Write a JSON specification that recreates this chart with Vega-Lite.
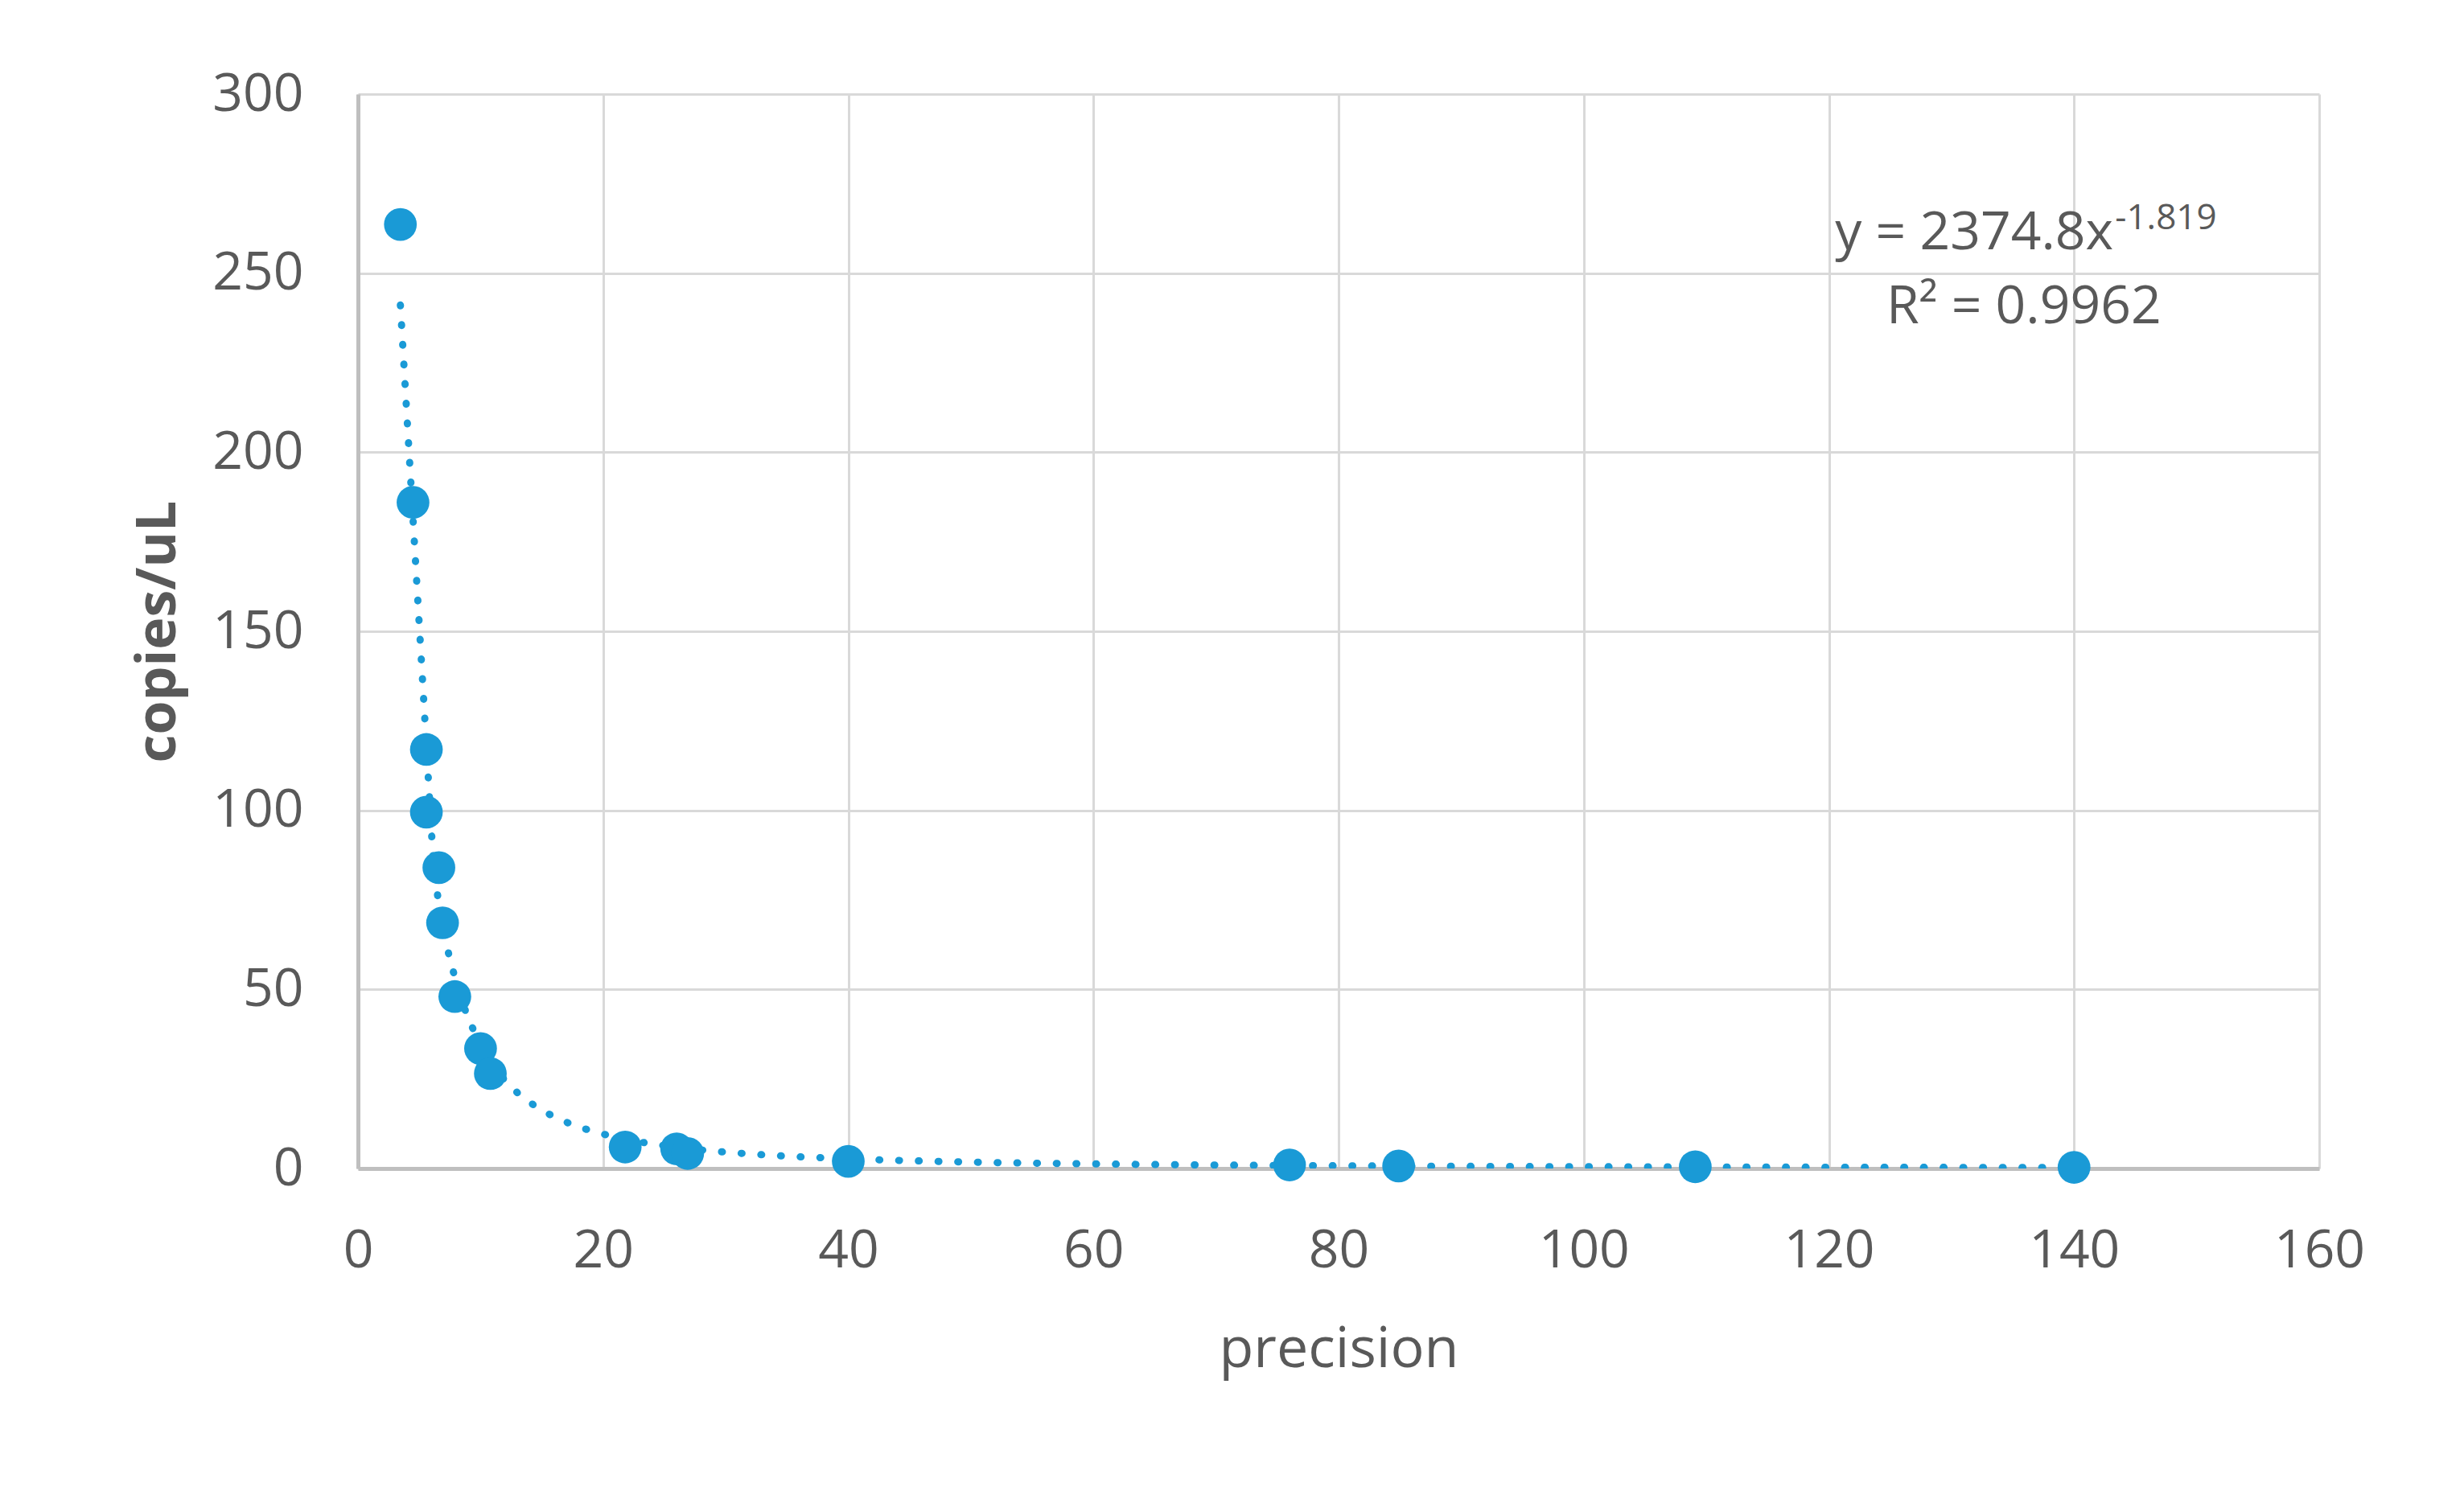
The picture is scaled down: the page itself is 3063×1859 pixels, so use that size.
{
  "$schema": "https://vega.github.io/schema/vega-lite/v6.json",
  "width": 2438,
  "height": 1336,
  "autosize": {"type": "none"},
  "padding": {"left": 445, "top": 117, "right": 180, "bottom": 406},
  "background": "white",
  "config": {"view": {"stroke": null}, "font": "Open Sans"},
  "datasets": {
    "points": [
      {"precision": 3.46, "copies": 263.6},
      {"precision": 4.49, "copies": 186.0},
      {"precision": 5.58, "copies": 117.0},
      {"precision": 5.58, "copies": 99.5},
      {"precision": 6.6, "copies": 84.0},
      {"precision": 6.9, "copies": 68.6},
      {"precision": 7.9, "copies": 48.0},
      {"precision": 10.0, "copies": 33.5},
      {"precision": 10.8, "copies": 26.5},
      {"precision": 21.8, "copies": 6.0},
      {"precision": 26.0, "copies": 5.5},
      {"precision": 26.9, "copies": 4.2},
      {"precision": 40.0, "copies": 2.0},
      {"precision": 76.0, "copies": 1.0},
      {"precision": 84.9, "copies": 0.7},
      {"precision": 109.1, "copies": 0.5},
      {"precision": 140.0, "copies": 0.33}
    ],
    "labels": [
      {"text": "y = 2374.8x", "px": 143.2, "py": 256.7, "part": "eq"},
      {"text": "-1.819", "px": 143.35, "py": 262.3, "part": "sup"},
      {"text": "R² = 0.9962", "px": 135.9, "py": 236.0, "part": "r2"}
    ]
  },
  "layer": [
    {
      "data": {"name": "points"},
      "transform": [{"regression": "copies", "on": "precision", "method": "pow"}],
      "mark": {"type": "line", "color": "#1a9ad6", "strokeWidth": 9, "strokeDash": [1, 23.5], "strokeCap": "round", "clip": true},
      "encoding": {
        "x": {
          "field": "precision",
          "type": "quantitative",
          "scale": {"domain": [0, 160], "nice": false, "zero": true},
          "axis": {
            "values": [0, 20, 40, 60, 80, 100, 120, 140, 160],
            "title": "precision",
            "titleFontSize": 70,
            "titleFontWeight": "normal",
            "titleColor": "#595959",
            "titlePadding": 56,
            "labelFontSize": 66,
            "labelColor": "#595959",
            "labelPadding": 70,
            "ticks": false,
            "tickSize": 0,
            "grid": true,
            "gridColor": "#d9d9d9",
            "gridWidth": 3,
            "domainColor": "#bfbfbf",
            "domainWidth": 5,
            "labelFlush": false
          }
        },
        "y": {
          "field": "copies",
          "type": "quantitative",
          "scale": {"domain": [0, 300], "nice": false},
          "axis": {
            "values": [0, 50, 100, 150, 200, 250, 300],
            "title": "copies/uL",
            "titleFontSize": 68,
            "titleFontWeight": "bold",
            "titleColor": "#595959",
            "titlePadding": 32,
            "labelFontSize": 66,
            "labelColor": "#595959",
            "labelPadding": 68,
            "ticks": false,
            "tickSize": 0,
            "grid": true,
            "gridColor": "#d9d9d9",
            "gridWidth": 3,
            "domainColor": "#bfbfbf",
            "domainWidth": 5,
            "labelFlush": false
          }
        }
      }
    },
    {
      "data": {"name": "points"},
      "mark": {"type": "circle", "size": 1660, "color": "#1a9ad6", "opacity": 1},
      "encoding": {
        "x": {"field": "precision", "type": "quantitative"},
        "y": {"field": "copies", "type": "quantitative"}
      }
    },
    {
      "data": {"name": "labels"},
      "transform": [{"filter": "datum.part === 'eq'"}],
      "mark": {"type": "text", "align": "right", "baseline": "alphabetic", "fontSize": 66, "color": "#595959"},
      "encoding": {
        "x": {"field": "px", "type": "quantitative"},
        "y": {"field": "py", "type": "quantitative"},
        "text": {"field": "text", "type": "nominal"}
      }
    },
    {
      "data": {"name": "labels"},
      "transform": [{"filter": "datum.part === 'sup'"}],
      "mark": {"type": "text", "align": "left", "baseline": "alphabetic", "fontSize": 44, "color": "#595959"},
      "encoding": {
        "x": {"field": "px", "type": "quantitative"},
        "y": {"field": "py", "type": "quantitative"},
        "text": {"field": "text", "type": "nominal"}
      }
    },
    {
      "data": {"name": "labels"},
      "transform": [{"filter": "datum.part === 'r2'"}],
      "mark": {"type": "text", "align": "center", "baseline": "alphabetic", "fontSize": 66, "color": "#595959"},
      "encoding": {
        "x": {"field": "px", "type": "quantitative"},
        "y": {"field": "py", "type": "quantitative"},
        "text": {"field": "text", "type": "nominal"}
      }
    }
  ]
}
